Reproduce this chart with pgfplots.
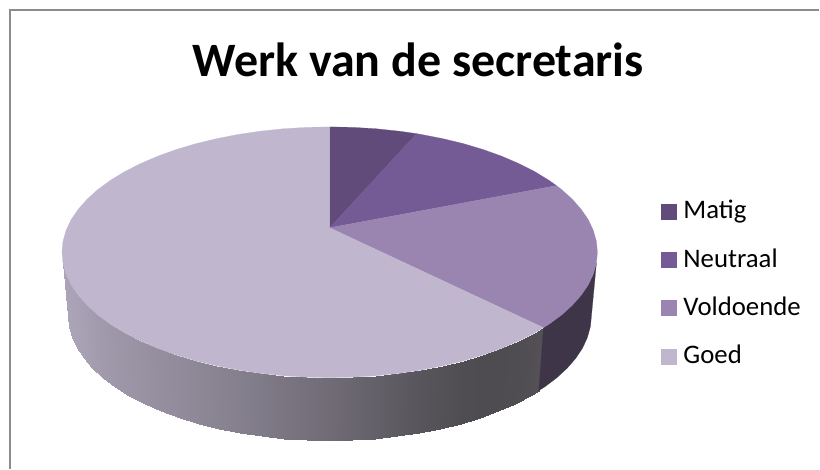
\documentclass[border=0pt]{standalone}
\usepackage{pgfplots}
\pgfplotsset{compat=1.18}
\usepackage{fontspec}
\setmainfont{Carlito}
\definecolor{matig}{RGB}{96,75,123}
\definecolor{neutraal}{RGB}{116,91,150}
\definecolor{voldoende}{RGB}{153,133,176}
\definecolor{goed}{RGB}{192,183,207}
\definecolor{darkside}{RGB}{63,53,72}
\definecolor{framec}{RGB}{140,140,140}
\begin{document}
\begin{tikzpicture}
\begin{axis}[
  scale only axis, width=820pt, height=469pt,
  xmin=0, xmax=820, ymin=0, ymax=469, y dir=reverse,
  hide axis, clip=false,
  colormap={sidecm}{rgb255(0cm)=(78,75,80); rgb255(1cm)=(172,165,185)},
  point meta min=78, point meta max=172,
  legend style={draw=none, fill=none, at={(axis cs:662,201)}, anchor=north west,
    inner sep=0pt, outer sep=0pt, row sep=24.4pt, font=\fontsize{26.8}{28}\selectfont,
    nodes={inner sep=0pt, outer sep=0pt, text height=18pt, text depth=6pt, anchor=base west}},
  legend cell align=left,
  legend image code/.code={\fill[#1] (0pt,0pt) rectangle (15pt,15pt); \path[draw=none,fill=none] (0pt,0pt) -- (22pt,0pt);},
]
\path (axis cs:0,0) (axis cs:820,469);
% frame
\addplot[forget plot, color=framec, line width=1.6pt] coordinates {(10,469) (10,10) (820,10)};
% side of the goed slice
\addplot[forget plot, surf, shader=interp, mesh/rows=2, mesh/ordering=x varies, point meta=explicit]
 table[meta=c] {
x y c
63 263.4 172
66.1 274.3 171
71.1 285 170
78.2 295.4 168
87.1 305.5 165
97.9 315.3 161
110.5 324.5 158
124.7 333.2 155
140.5 341.2 152
157.7 348.6 148
176.3 355.3 145
196 361.2 141
216.7 366.2 137
238.3 370.4 133
260.6 373.7 128
283.5 376.1 122
306.6 377.5 117
330 378 112
353.4 377.5 106
376.5 376.1 100
399.4 373.7 94
421.7 370.4 88
443.3 366.2 84
464 361.2 80
483.7 355.3 79
502.3 348.6 79
519.5 341.2 80
535.3 333.2 82
544 328 84
69 326.9 172
72 337.7 171
76.9 348.4 170
83.8 358.8 168
92.5 368.8 165
103.1 378.5 161
115.4 387.7 158
129.3 396.3 155
144.7 404.4 152
161.6 411.8 148
179.7 418.4 145
199 424.3 141
219.3 429.3 137
240.4 433.5 133
262.2 436.7 128
284.5 439.1 122
307.2 440.5 117
330 441 112
352.8 440.5 106
375.5 439.1 100
397.8 436.7 94
419.6 433.5 88
440.7 429.3 84
461 424.3 80
480.3 418.4 79
498.4 411.8 79
515.3 404.4 80
530.7 396.3 82
539.3 391 84
};
% side of the voldoende slice
\addplot[forget plot, fill=darkside, draw=darkside, line width=0.2pt] coordinates {
(597,263.4)(593.9,274.3)(588.9,285)(581.8,295.4)(572.9,305.5)(562.1,315.3)(549.5,324.5)(544,328)
(539.3,391)(544.6,387.7)(556.9,378.5)(567.5,368.8)(576.2,358.8)(583.1,348.4)(588,337.7)(591,326.9)} -- cycle;
% top faces
\addplot[fill=matig, draw=matig, line width=0.2pt] coordinates {
(330,228)(330,127)(353.4,127.5)(376.5,128.9)(399.4,131.3)(417,133.8)} -- cycle;
\addlegendentry{Matig}
\addplot[fill=neutraal, draw=neutraal, line width=0.2pt] coordinates {
(330,228)(417,133.8)(421.7,134.6)(443.3,138.8)(464,143.8)(483.7,149.7)(502.3,156.4)(519.5,163.8)(535.3,171.8)(549.5,180.5)(557,185.8)} -- cycle;
\addlegendentry{Neutraal}
\addplot[fill=voldoende, draw=voldoende, line width=0.2pt] coordinates {
(330,228)(557,185.8)(562.1,189.7)(572.9,199.5)(581.8,209.6)(588.9,220)(593.9,230.7)(597,241.6)(598,252.5)
(597,263.4)(593.9,274.3)(588.9,285)(581.8,295.4)(572.9,305.5)(562.1,315.3)(549.5,324.5)(544,328)} -- cycle;
\addlegendentry{Voldoende}
\addplot[fill=goed, draw=goed, line width=0.2pt] coordinates {
(330,228)(544,328)(535.3,333.2)(519.5,341.2)(502.3,348.6)(483.7,355.3)(464,361.2)(443.3,366.2)(421.7,370.4)(399.4,373.7)(376.5,376.1)(353.4,377.5)(330,378)
(306.6,377.5)(283.5,376.1)(260.6,373.7)(238.3,370.4)(216.7,366.2)(196,361.2)(176.3,355.3)(157.7,348.6)(140.5,341.2)(124.7,333.2)(110.5,324.5)(97.9,315.3)(87.1,305.5)(78.2,295.4)(71.1,285)(66.1,274.3)(63,263.4)(62,252.5)
(63,241.6)(66.1,230.7)(71.1,220)(78.2,209.6)(87.1,199.5)(97.9,189.7)(110.5,180.5)(124.7,171.8)(140.5,163.8)(157.7,156.4)(176.3,149.7)(196,143.8)(216.7,138.8)(238.3,134.6)(260.6,131.3)(283.5,128.9)(306.6,127.5)(330,127)} -- cycle;
\addlegendentry{Goed}
\node[anchor=base, inner sep=0pt, font=\fontsize{48}{50}\selectfont\bfseries] at (axis cs:418.5,77) {Werk van de secretaris};
\end{axis}
\end{tikzpicture}
\end{document}
